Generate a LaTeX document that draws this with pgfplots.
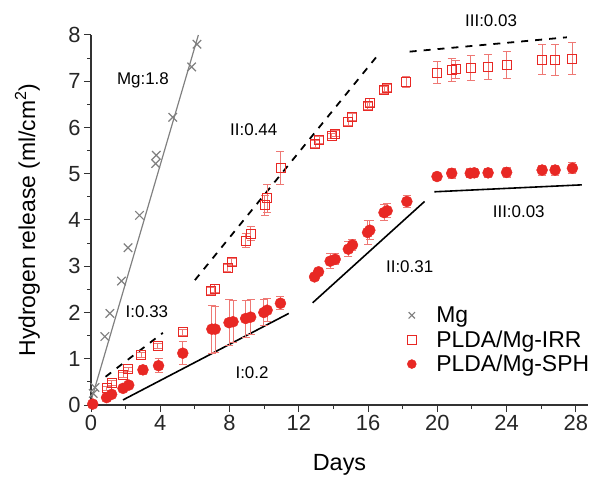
\documentclass[border=0pt]{standalone}
\usepackage{fontspec}
\setmainfont{Liberation Sans}
\usepackage{pgfplots}
\pgfplotsset{compat=1.18}
\definecolor{cRed}{RGB}{232,40,36}
\definecolor{cRedErr}{RGB}{238,120,116}
\definecolor{cMg}{RGB}{128,128,128}
\definecolor{cAx}{RGB}{50,50,50}

\pgfplotstableread{
x y e
0.90 0.36 0.04
1.19 0.48 0.05
1.85 0.65 0.05
2.14 0.77 0.05
2.91 1.08 0.06
3.86 1.28 0.06
5.30 1.57 0.07
6.92 2.47 0.08
7.15 2.52 0.08
7.88 2.96 0.08
8.13 3.09 0.08
8.93 3.55 0.15
9.22 3.70 0.15
10.02 4.32 0.22
10.17 4.47 0.30
10.94 5.13 0.36
12.95 5.64 0.08
13.18 5.73 0.08
13.90 5.82 0.06
14.10 5.87 0.06
14.86 6.13 0.08
15.09 6.23 0.08
15.97 6.46 0.08
16.10 6.54 0.08
16.92 6.81 0.08
17.10 6.85 0.08
18.20 6.99 0.12
19.98 7.19 0.23
20.83 7.24 0.25
21.07 7.26 0.20
21.93 7.28 0.27
22.93 7.31 0.28
24.00 7.35 0.29
26.05 7.47 0.32
26.80 7.46 0.33
27.80 7.49 0.35
}\irr

\pgfplotstableread{
x y e
0.10 0.02 0
0.90 0.16 0.03
1.19 0.23 0.03
1.85 0.36 0.04
2.18 0.43 0.04
3.00 0.76 0.10
3.90 0.85 0.15
5.30 1.12 0.25
6.98 1.64 0.52
7.17 1.64 0.50
7.97 1.78 0.50
8.20 1.80 0.45
8.93 1.87 0.40
9.22 1.90 0.38
9.98 2.00 0.29
10.17 2.05 0.25
10.94 2.20 0.14
12.91 2.77 0.05
13.14 2.88 0.06
13.81 3.11 0.16
14.10 3.15 0.12
14.86 3.37 0.16
15.10 3.46 0.12
15.97 3.73 0.25
16.10 3.78 0.20
16.92 4.16 0.18
17.10 4.20 0.15
18.24 4.40 0.13
19.98 4.94 0.05
20.83 5.01 0.11
21.90 5.01 0.10
22.13 5.02 0.10
22.93 5.02 0.10
24.00 5.03 0.10
26.05 5.08 0.11
26.80 5.08 0.11
27.80 5.12 0.12
}\sph

\begin{document}
\begin{tikzpicture}
\useasboundingbox (0,0) rectangle (593bp,477bp);
\begin{axis}[
  at={(91bp,72bp)}, anchor=south west,
  scale only axis, width=497bp, height=370bp,
  xmin=0, xmax=28.7, ymin=0, ymax=8,
  axis lines=left,
  axis line style={cAx, line width=1.1pt, -},
  clip=false,
  xtick={0,4,...,28}, ytick={0,1,...,8},
  minor x tick num=1, minor y tick num=1,
  tick align=outside,
  major tick length=7bp, minor tick length=4bp,
  tick style={cAx, line width=1pt},
  ticklabel style={font=\fontsize{22}{26}\selectfont, text=black!85},
  /pgf/number format/assume math mode=true,
  xlabel={Days},
  ylabel={Hydrogen release (ml/cm\textsuperscript{2})},
  xlabel style={font=\fontsize{23.5}{27}\selectfont, at={(axis description cs:0.5,-0.162)}, anchor=center},
  ylabel style={font=\fontsize{23}{27}\selectfont, at={(axis description cs:-0.128,0.5)}, anchor=center},
  legend style={draw=none, fill=none, font=\fontsize{23}{26}\selectfont,
    at={(axis description cs:0.63,0.277)}, anchor=north west,
    row sep=2.5bp, cells={anchor=west},
    /tikz/every odd column/.append style={column sep=18bp}},
  legend cell align=left,
  legend image post style={mark size=4.5bp},
]
% fit lines
\addplot[cMg, line width=1.2pt, forget plot] coordinates {(0.05,0.15) (6.2,8.0)};
\addplot[black, line width=1.8pt, dash pattern=on 7bp off 7bp, forget plot] coordinates {(0.84,0.61) (4.15,1.56)};
\addplot[black, line width=1.8pt, dash pattern=on 7bp off 7bp, forget plot] coordinates {(6.0,2.70) (16.49,7.53)};
\addplot[black, line width=1.8pt, dash pattern=on 7bp off 7bp, forget plot] coordinates {(18.4,7.64) (27.48,7.95)};
\addplot[black, line width=1.6pt, forget plot] coordinates {(1.85,0.11) (11.42,1.98)};
\addplot[black, line width=1.6pt, forget plot] coordinates {(12.8,2.21) (19.26,4.40)};
\addplot[black, line width=1.6pt, forget plot] coordinates {(19.83,4.61) (28.34,4.76)};

% data
\addplot[only marks, mark=x, mark size=6bp, cMg, mark options={line width=1.2pt}]
  coordinates {(0.13,0.25) (0.23,0.38) (0.8,1.48) (1.09,1.98) (1.76,2.68) (2.14,3.40)
               (2.8,4.10) (3.73,5.22) (3.77,5.40) (4.72,6.22) (5.81,7.31) (6.12,7.80)};
\addlegendentry{Mg}
\addplot[only marks, mark=square, mark size=4.5bp, cRed, mark options={line width=0.9pt},
  error bars/.cd, y dir=both, y explicit,
  error bar style={cRedErr, line width=0.9pt},
  error mark options={rotate=90, mark size=4bp, cRedErr, line width=0.9pt}]
  table[x=x, y=y, y error=e] {\irr};
\addlegendentry{PLDA/Mg-IRR}
\addplot[only marks, mark=*, mark size=5.5bp, cRed, mark options={draw=cRed, fill=cRed},
  error bars/.cd, y dir=both, y explicit,
  error bar style={cRedErr, line width=0.9pt},
  error mark options={rotate=90, mark size=4bp, cRedErr, line width=0.9pt}]
  table[x=x, y=y, y error=e] {\sph};
\addlegendentry{PLDA/Mg-SPH}

% annotations
\node[font=\fontsize{17}{20}\selectfont] at (axis cs:3.0,7.03) {Mg:1.8};
\node[font=\fontsize{17}{20}\selectfont] at (axis cs:9.4,5.95) {II:0.44};
\node[font=\fontsize{17}{20}\selectfont] at (axis cs:23.1,8.32) {III:0.03};
\node[font=\fontsize{17}{20}\selectfont] at (axis cs:24.7,4.18) {III:0.03};
\node[font=\fontsize{17}{20}\selectfont] at (axis cs:3.23,2.02) {I:0.33};
\node[font=\fontsize{17}{20}\selectfont] at (axis cs:9.3,0.69) {I:0.2};
\node[font=\fontsize{17}{20}\selectfont] at (axis cs:18.4,2.99) {II:0.31};
\end{axis}
\end{tikzpicture}
\end{document}
